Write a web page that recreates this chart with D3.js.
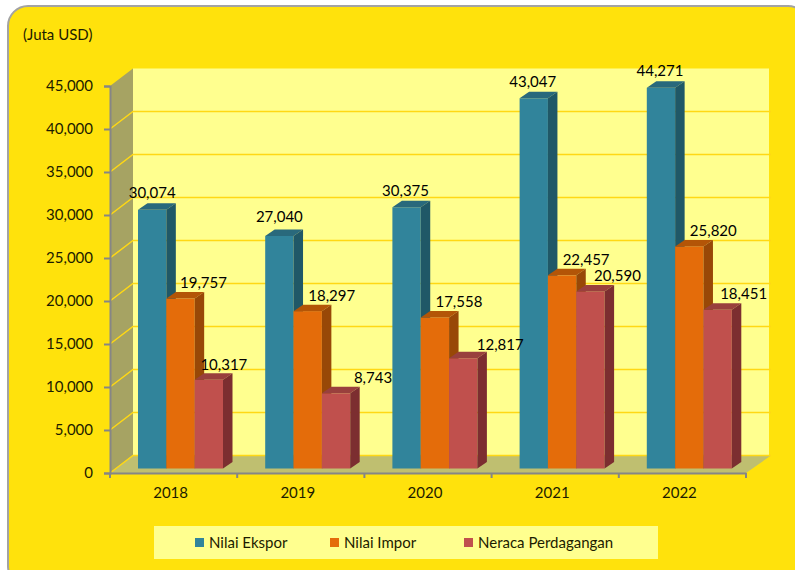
<!DOCTYPE html>
<html>
<head>
<meta charset="utf-8">
<script src="https://cdn.jsdelivr.net/npm/d3@7/dist/d3.min.js"></script>
<style>
html, body { margin: 0; padding: 0; background: #fff; overflow: hidden; }
svg { display: block; }
text { font-family: Lato, "Open Sans", sans-serif; fill: #1c1c00; }
</style>
</head>
<body>
<svg id="chart" width="795" height="570"></svg>
<script>
var years = ["2018", "2019", "2020", "2021", "2022"];
var seriesNames = ["Nilai Ekspor", "Nilai Impor", "Neraca Perdagangan"];
var ekspor = [30074, 27040, 30375, 43047, 44271];
var impor = [19757, 18297, 17558, 22457, 25820];
var neraca = [10317, 8743, 12817, 20590, 18451];
var yTicks = [0, 5000, 10000, 15000, 20000, 25000, 30000, 35000, 40000, 45000];
var unitLabel = "(Juta USD)";

var seriesValues = [ekspor, impor, neraca];
var front = ["#31849B", "#E46C0A", "#C0504D"];
var topFace = ["#29697C", "#B35507", "#99403D"];
var sideFace = ["#205867", "#984807", "#7C2E30"];

var fmt = d3.format(",");
var svg = d3.select("#chart");

// plot box
var left = 110, right = 746, bottom = 473, top_ = 86;
var depthX = 23, depthY = 17.5;    // wall depth
var barDX = 9.5, barDY = 6.5;      // bar depth
var barBaseX = 5, barBaseY = 4.5;  // bars stand a bit into the floor

var x0 = d3.scaleBand().domain(years).range([left, right]);
var x1 = d3.scaleBand().domain(seriesNames).range([0, 85]);
var y = d3.scaleLinear().domain([0, 45000]).range([bottom, top_]);

// frame
svg.append("rect")
	.attr("x", 8).attr("y", 6)
	.attr("width", 800).attr("height", 580)
	.attr("rx", 20).attr("ry", 20)
	.attr("fill", "#FFE20C")
	.attr("stroke", "#A3A3A3")
	.attr("stroke-width", 2);

svg.append("text")
	.attr("x", 23).attr("y", 40)
	.style("font-size", "15px")
	.text(unitLabel);

// back wall
svg.append("rect")
	.attr("x", left + depthX).attr("y", top_ - depthY)
	.attr("width", right - left)
	.attr("height", bottom - top_)
	.attr("fill", "#FFFF8F");

// side wall
svg.append("polygon")
	.attr("points", [
		[left, top_], [left + depthX, top_ - depthY],
		[left + depthX, bottom - depthY], [left, bottom]
	].join(" "))
	.attr("fill", "#A6A363");

// floor
svg.append("polygon")
	.attr("points", [
		[left, bottom], [left + depthX, bottom - depthY],
		[right + depthX + 2, bottom - depthY], [right, bottom]
	].join(" "))
	.attr("fill", "#BFBF70");

// gridlines
var grid = svg.append("g");
yTicks.forEach(function(t) {
	if (t == 45000) return;
	grid.append("polyline")
		.attr("points", [
			[left, y(t)], [left + depthX, y(t) - depthY], [right + depthX + 2, y(t) - depthY]
		].join(" "))
		.attr("fill", "none")
		.attr("stroke", "#FFD814")
		.attr("stroke-width", 1.5);
});

// axes
var gy = svg.append("g")
	.attr("transform", "translate(" + left + ",0)")
	.call(d3.axisLeft(y).tickValues(yTicks).tickFormat(fmt).tickSize(6).tickPadding(11));
var gx = svg.append("g")
	.attr("transform", "translate(0," + bottom + ")")
	.call(d3.axisBottom(x0).tickSize(0).tickPadding(14));
gx.selectAll(".tk").data(d3.range(6)).enter().append("line")
	.attr("class", "tk")
	.attr("x1", function(i) { return left + i * x0.step(); })
	.attr("x2", function(i) { return left + i * x0.step(); })
	.attr("y1", 0).attr("y2", 5)
	.attr("stroke", "#868686").attr("stroke-width", 2);
svg.selectAll(".domain").attr("stroke", "#868686").attr("stroke-width", 2);
gy.selectAll("line").attr("stroke", "#868686").attr("stroke-width", 2);
gy.selectAll("text").style("font-size", "15px").style("fill", "#1c1c00");
gx.selectAll("text").style("font-size", "15px").style("fill", "#1c1c00")
	.attr("dx", -3);
gx.selectAll(".tick line").remove();

// bars
var bars = svg.append("g");
var barX = function(yr, s) { return x0(yr) + 28 + x1(seriesNames[s]); };
var base = y(0) - barBaseY;
seriesNames.forEach(function(name, s) {
	var g = bars.append("g");
	var w = x1.bandwidth();
	years.forEach(function(yr, i) {
		var xa = barX(yr, s);
		var ya = y(seriesValues[s][i]) - barBaseY;
		g.append("rect")
			.attr("x", xa).attr("y", ya)
			.attr("width", w).attr("height", base - ya)
			.attr("fill", front[s]);
		g.append("polygon")
			.attr("points", [
				[xa, ya], [xa + barDX, ya - barDY], [xa + w + barDX, ya - barDY], [xa + w, ya]
			].join(" "))
			.attr("fill", topFace[s]);
		g.append("polygon")
			.attr("points", [
				[xa + w, ya], [xa + w + barDX, ya - barDY], [xa + w + barDX, base - barDY], [xa + w, base]
			].join(" "))
			.attr("fill", sideFace[s]);
	});
});

// data labels were hand placed in the original, so each one has its own nudge
var labelDX = [
	[0, 0, -1, -1, -1],
	[23, 24, 24, 24, 24],
	[15, 37, 37, 27, 26]
];
var labelDY = [
	[-5, -7, -5, -5, -5],
	[-4, -4, -4, -4, -4],
	[-3, -4, -2, -4, -4]
];
var labels = svg.append("g");
seriesNames.forEach(function(name, s) {
	years.forEach(function(yr, i) {
		labels.append("text")
			.attr("x", barX(yr, s) + x1.bandwidth() / 2 + labelDX[s][i])
			.attr("y", y(seriesValues[s][i]) - barBaseY - barDY + labelDY[s][i])
			.attr("text-anchor", "middle")
			.style("font-size", "15px")
			.style("fill", "#000")
			.text(fmt(seriesValues[s][i]));
	});
});

// legend
svg.append("rect")
	.attr("x", 154).attr("y", 526)
	.attr("width", 504).attr("height", 33)
	.attr("fill", "#FFFF8F");
var legendX = [195, 330, 464];
seriesNames.forEach(function(name, s) {
	svg.append("rect")
		.attr("x", legendX[s]).attr("y", 538)
		.attr("width", 9).attr("height", 9)
		.attr("fill", front[s]);
	svg.append("text")
		.attr("x", legendX[s] + 14).attr("y", 548)
		.style("font-size", "15px")
		.text(name);
});
</script>
</body>
</html>
